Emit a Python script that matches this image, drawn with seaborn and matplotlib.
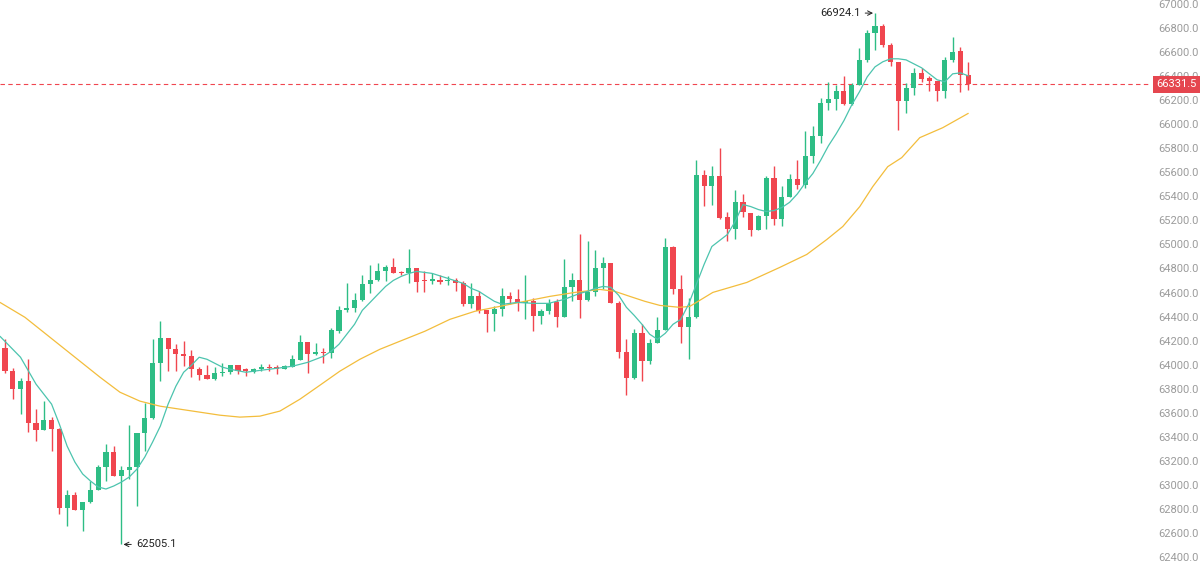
import numpy as np
import pandas as pd
import matplotlib
matplotlib.use("Agg")
import matplotlib.pyplot as plt
import matplotlib.transforms as mtransforms
import seaborn as sns

# OHLC (one value per candle)
opens = [64142, 63948, 63801, 63865, 63511, 63458, 63539, 63464, 62805, 62916,
         62794, 62855, 62960, 63146, 63276, 63071, 63126, 63146, 63428, 63555,
         64012, 64225, 64128, 64086, 64073, 63962, 63912, 63879, 63929, 63940,
         63995, 63960, 63940, 63962, 63984, 63978, 63967, 63984, 64039, 64189,
         64086, 64109, 64095, 64280, 64452, 64474, 64535, 64668, 64703, 64775,
         64814, 64767, 64759, 64806, 64701, 64695, 64703, 64692, 64701, 64681,
         64502, 64571, 64452, 64418, 64460, 64571, 64548, 64515, 64529, 64405,
         64446, 64521, 64399, 64648, 64703, 64537, 64604, 64806, 64847, 64515,
         64106, 63893, 64261, 64031, 64183, 64286, 64977, 64632, 64316, 64399,
         65580, 65489, 65572, 65229, 65129, 65354, 65262, 65124, 65235, 65550,
         65212, 65395, 65547, 65497, 65733, 65899, 66175, 66211, 66278, 66170,
         66327, 66535, 66756, 66817, 66660, 66521, 66192, 66300, 66424, 66383,
         66361, 66280, 66535, 66612, 66410]
highs = [64217, 63976, 63893, 64045, 63630, 63699, 63561, 63470, 62960, 62944,
         62855, 63035, 63165, 63340, 63326, 63160, 63497, 63428, 63685, 64211,
         64363, 64225, 64169, 64197, 64122, 63984, 63998, 63984, 64017, 63995,
         63998, 63976, 63976, 64003, 64003, 63995, 63995, 64078, 64244, 64189,
         64178, 64142, 64308, 64488, 64676, 64598, 64750, 64833, 64842, 64833,
         64889, 64778, 64958, 64806, 64778, 64764, 64742, 64737, 64723, 64695,
         64681, 64612, 64452, 64488, 64640, 64604, 64632, 64742, 64557, 64460,
         64543, 64548, 64881, 64764, 65091, 65027, 64952, 64897, 64847, 64529,
         64211, 64294, 64336, 64211, 64396, 65055, 64991, 64750, 64557, 65700,
         65622, 65650, 65802, 65268, 65450, 65423, 65262, 65248, 65567, 65650,
         65490, 65585, 65700, 65940, 65982, 66217, 66355, 66327, 66397, 66341,
         66632, 66784, 66924.1, 66830, 66673, 66521, 66340, 66466, 66466, 66397,
         66361, 66563, 66723, 66646, 66521]
lows = [63934, 63718, 63588, 63442, 63367, 63456, 63284, 62758, 62662, 62790,
        62620, 62850, 62955, 63035, 63071, 62505.1, 63049, 62822, 63284, 63550,
        63865, 63948, 63948, 63990, 63901, 63871, 63879, 63875, 63907, 63920,
        63920, 63910, 63930, 63950, 63945, 63925, 63965, 63980, 64035, 63934,
        64078, 64017, 64059, 64261, 64440, 64440, 64529, 64598, 64695, 64695,
        64764, 64750, 64681, 64604, 64604, 64667, 64667, 64659, 64612, 64488,
        64474, 64432, 64272, 64280, 64405, 64502, 64446, 64377, 64280, 64336,
        64420, 64316, 64399, 64529, 64391, 64530, 64571, 64626, 64509, 64059,
        63746, 63879, 63865, 64003, 64183, 64286, 64584, 64183, 64045, 64391,
        65318, 65331, 65212, 65027, 65046, 65229, 65074, 65124, 65129, 65160,
        65155, 65395, 65465, 65470, 65680, 65843, 66120, 66120, 66161, 66161,
        66327, 66521, 66618, 66646, 66480, 65954, 66092, 66244, 66355, 66280,
        66189, 66217, 66521, 66272, 66286]
closes = [63948, 63801, 63865, 63511, 63456, 63539, 63464, 62805, 62916, 62794,
          62855, 62960, 63146, 63276, 63071, 63126, 63146, 63428, 63555, 64012,
          64225, 64128, 64086, 64073, 63962, 63912, 63879, 63929, 63940, 63995,
          63948, 63945, 63962, 63984, 63973, 63967, 63990, 64045, 64189, 64086,
          64106, 64095, 64286, 64452, 64474, 64535, 64668, 64703, 64775, 64814,
          64764, 64759, 64806, 64687, 64692, 64709, 64687, 64701, 64681, 64502,
          64571, 64446, 64418, 64460, 64571, 64548, 64515, 64529, 64405, 64446,
          64515, 64399, 64648, 64703, 64537, 64604, 64806, 64847, 64515, 64106,
          63893, 64261, 64031, 64183, 64286, 64977, 64632, 64316, 64399, 65580,
          65489, 65572, 65221, 65129, 65354, 65268, 65124, 65235, 65550, 65212,
          65395, 65547, 65497, 65733, 65899, 66175, 66211, 66278, 66170, 66327,
          66535, 66756, 66817, 66660, 66521, 66192, 66300, 66424, 66377, 66361,
          66280, 66535, 66604, 66410, 66331.5]

# fast moving average (teal), read at candle positions
ma_fast_idx = [-0.64, 1, 2, 4, 6, 7, 8, 9, 10, 11, 12, 13, 14, 15, 16, 17, 18, 19,
               20, 21, 22, 23, 24, 25, 26, 27, 28, 29, 31, 33, 35, 37, 39, 41, 42,
               43, 44, 45, 46, 47, 48, 49, 50, 51, 52, 53, 55, 57, 59, 60, 61, 62,
               63, 64, 65, 66, 68, 70, 71, 72, 73, 74, 75, 76, 77, 78, 79, 80, 81,
               82, 83, 84, 85, 86, 87, 88, 89, 90, 91, 92, 93, 94, 95, 96, 97, 98,
               99, 100, 101, 102, 103, 104, 105, 106, 107, 108, 109, 110, 111, 112,
               113, 114, 115, 116, 117, 118, 119, 120, 121, 122, 123, 124]
ma_fast_val = [64236, 64128, 64062, 63838, 63672, 63506, 63323, 63190, 63091, 63033,
               62983, 62966, 62991, 63024, 63066, 63132, 63232, 63356, 63489, 63672,
               63821, 63937, 63995, 64062, 64045, 64012, 63979, 63962, 63937, 63954,
               63970, 63987, 64020, 64070, 64112, 64170, 64253, 64336, 64452, 64518,
               64585, 64651, 64701, 64734, 64759, 64776, 64759, 64718, 64676, 64635,
               64610, 64568, 64527, 64502, 64510, 64518, 64510, 64510, 64527, 64543,
               64568, 64593, 64610, 64635, 64651, 64643, 64577, 64477, 64410, 64336,
               64253, 64211, 64261, 64336, 64377, 64502, 64668, 64834, 64983, 65033,
               65083, 65191, 65332, 65315, 65290, 65274, 65282, 65307, 65350, 65420,
               65510, 65590, 65700, 65820, 65920, 66030, 66160, 66270, 66394, 66477,
               66519, 66544, 66544, 66535, 66502, 66469, 66419, 66369, 66353, 66419,
               66427, 66402]

# slow moving average (yellow)
ma_slow_idx = [-0.64, 2.57, 5.79, 9.01, 12.23, 14.8, 17.37, 19.95, 22.52, 25.1,
               27.67, 30.24, 32.82, 35.39, 37.97, 40.54, 43.11, 45.69, 48.26, 50.84,
               54.05, 57.27, 60.49, 63.71, 66.92, 70.14, 73.36, 76.58, 78.51, 80.44,
               82.37, 84.3, 86.87, 88.16, 91.12, 95.5, 99.74, 103.22, 105.79, 107.85,
               110.04, 111.71, 113.64, 115.44, 117.76, 120.72, 124]
ma_slow_val = [64518, 64394, 64228, 64062, 63896, 63771, 63697, 63655, 63630, 63605,
               63580, 63564, 63572, 63614, 63713, 63829, 63946, 64045, 64128, 64195,
               64278, 64377, 64444, 64485, 64527, 64568, 64601, 64626, 64610, 64568,
               64527, 64493, 64477, 64485, 64601, 64684, 64809, 64917, 65041, 65149,
               65315, 65481, 65647, 65722, 65888, 65971, 66090]

y_ticks = list(range(62400, 67001, 200))
last_price = 66331.5

GREEN = "#2ebd85"
RED = "#f0464f"

sns.set_theme(style="white")
plt.rcParams["font.family"] = ["Roboto", "DejaVu Sans"]

df = pd.DataFrame({"o": opens, "h": highs, "l": lows, "c": closes})
df["i"] = np.arange(len(df))
df["color"] = np.where(df["c"] >= df["o"], GREEN, RED)
df["bottom"] = df[["o", "c"]].min(axis=1)
df["height"] = (df["c"] - df["o"]).abs().clip(lower=9)

fig = plt.figure(figsize=(12, 5.65), dpi=100)
ax = fig.add_axes([0, 0, 1150 / 1200, 1])

# candles
ax.vlines(df["i"], df["l"], df["h"], color=df["color"], lw=1, zorder=3)
ax.bar(df["i"], df["height"], bottom=df["bottom"], width=0.66,
       color=df["color"], lw=0, zorder=4)

# moving averages
sns.lineplot(x=ma_slow_idx, y=ma_slow_val, ax=ax, color="#f3bd3c", lw=0.9, zorder=5)
sns.lineplot(x=ma_fast_idx, y=ma_fast_val, ax=ax, color="#4cc4ae", lw=0.9, zorder=5)

# last price line + tag
ax.axhline(last_price, color=RED, ls=(0, (4, 3)), lw=0.8, zorder=2)
trans = mtransforms.blended_transform_factory(ax.transAxes, ax.transData)
ax.text(1.0 + 6 / 1150, last_price, f"{last_price:.1f}", transform=trans,
        ha="left", va="center", color="white", fontsize=8, zorder=10, clip_on=False,
        bbox=dict(boxstyle="square,pad=0.3", fc="#e5464f", ec="none"))

# high / low markers
ax.annotate(f"{max(highs):.1f}", xy=(highs.index(max(highs)) - 0.25, max(highs)),
            xytext=(-9, 0), textcoords="offset points", ha="right", va="center",
            fontsize=8, color="#222222",
            arrowprops=dict(arrowstyle="->", lw=0.7, color="#222222",
                            shrinkA=1, shrinkB=0))
ax.annotate(f"{min(lows):.1f}", xy=(lows.index(min(lows)) + 0.25, min(lows)),
            xytext=(9, 0), textcoords="offset points", ha="left", va="center",
            fontsize=8, color="#222222",
            arrowprops=dict(arrowstyle="->", lw=0.7, color="#222222",
                            shrinkA=1, shrinkB=0))

ax.set_xlim(-0.64, 147.4)
ax.set_ylim(62334, 67033)
ax.yaxis.tick_right()
ax.set_yticks(y_ticks)
ax.set_yticklabels([f"{t:.1f}" for t in y_ticks])
ax.tick_params(axis="y", length=0, pad=6, labelsize=8, labelcolor="#9b9b9b")
ax.set_xticks([])
ax.set_xlabel("")
ax.set_ylabel("")
for s in ax.spines.values():
    s.set_visible(False)

fig.savefig("out.png", dpi=100)
plt.close(fig)
